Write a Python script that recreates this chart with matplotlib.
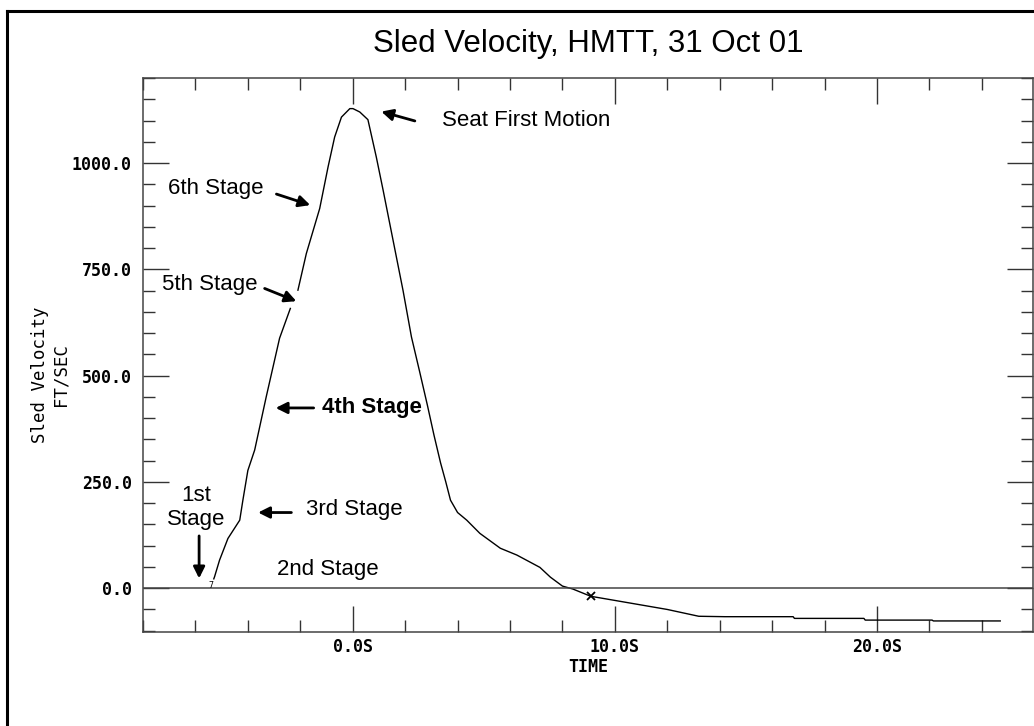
import numpy as np
import matplotlib
matplotlib.use("Agg")
import matplotlib.pyplot as plt
from matplotlib.ticker import MultipleLocator, FixedLocator, FuncFormatter
from matplotlib.lines import Line2D

# sled velocity trace (time in s, velocity in ft/sec); NaN marks the dropout near 5th stage
time_s = [-5.30, -5.27, -5.08, -4.76, -4.31, -4.19, -4.00, -3.74, -3.30, -2.79, -2.38,
          np.nan,
          -2.09, -1.77, -1.26, -0.94, -0.69, -0.43, -0.11, 0.01, 0.27, 0.58, 0.90,
          1.16, 1.54, 1.92, 2.24, 2.55, 2.85, 3.10, 3.35, 3.55, 3.73, 4.00, 4.35,
          4.85, 5.63, 6.26, 7.14, 7.54, 8.00, 8.40, 9.08, 9.93, 12.00, 13.20,
          14.20, 16.80, 16.85, 19.50, 19.55, 22.10, 22.15, 24.70]
velocity = [22, 27, 66, 117, 160, 207, 277, 325, 450, 588, 658,
            np.nan,
            701, 787, 893, 991, 1061, 1108, 1128, 1128, 1120, 1102, 1014,
            936, 818, 700, 591, 510, 430, 360, 295, 250, 207, 178, 160,
            129, 94, 78, 49, 26, 5, -2, -19, -28, -50, -66,
            -67, -67, -71, -71, -75, -75, -77, -77]

cross_t, cross_v = 9.08, -19

y_major = [0, 250, 500, 750, 1000]
x_major = [0, 10, 20]

stage_notes = [
    # text, text pos, arrow tail, arrow head, weight
    ("Seat First Motion", (3.40, 1099), (2.37, 1099), (1.09, 1121), "normal"),
    ("6th Stage", (-7.06, 939), (-2.91, 927), (-1.62, 901), "normal"),
    ("5th Stage", (-7.26, 715), (-3.36, 705), (-2.15, 675), "normal"),
    ("4th Stage", (-1.18, 424), (-1.49, 424), (-2.94, 424), "bold"),
    ("3rd Stage", (-1.78, 184), (-2.34, 178), (-3.61, 178), "normal"),
]

W, H = 1034, 726
fig = plt.figure(figsize=(W / 100, H / 100), dpi=100)
ax = fig.add_axes([143 / W, 1 - 632 / H, (1033 - 143) / W, (632 - 78) / H])

ax.plot(time_s, velocity, color="black", lw=1.0)
ax.plot(cross_t, cross_v, marker="x", color="black", ms=6, mew=1.3)
ax.text(-5.42, 6, "7", fontsize=6, family="DejaVu Sans Mono", ha="center", va="center")
ax.axhline(0, color="#444444", lw=1.1)

ax.set_xlim(-8, 25.95)
ax.set_ylim(-103, 1200)

ax.xaxis.set_major_locator(FixedLocator(x_major))
ax.xaxis.set_minor_locator(MultipleLocator(2))
ax.yaxis.set_major_locator(FixedLocator(y_major))
ax.yaxis.set_minor_locator(MultipleLocator(50))
ax.xaxis.set_major_formatter(FuncFormatter(lambda v, p: f"{v:.1f}S"))
ax.yaxis.set_major_formatter(FuncFormatter(lambda v, p: f"{v:.1f}"))

ax.tick_params(which="both", direction="in", top=True, right=True, color="#333333")
ax.tick_params(which="major", length=19, width=1.0, pad=4)
ax.tick_params(which="minor", length=8.5, width=1.0)
ax.tick_params(axis="y", which="major", pad=8)
for lab in ax.get_xticklabels() + ax.get_yticklabels():
    lab.set_family("DejaVu Sans Mono")
    lab.set_fontweight("bold")
    lab.set_fontsize(12)
for sp in ax.spines.values():
    sp.set_color("#444444")
    sp.set_linewidth(1.1)

ax.set_xlabel("TIME", family="DejaVu Sans Mono", fontweight="bold", fontsize=12, labelpad=2)
fig.text(50 / W, 1 - 375 / H, "Sled Velocity\nFT/SEC", family="DejaVu Sans Mono",
         fontsize=12.5, rotation=90, ha="center", va="center", linespacing=1.15)
ax.set_title("Sled Velocity, HMTT, 31 Oct 01", family="Liberation Sans", fontsize=22.5, pad=19)

arrow = dict(arrowstyle="-|>", color="black", lw=2.0, mutation_scale=17, shrinkA=0, shrinkB=0)
for txt, tpos, tail, head, wt in stage_notes:
    ax.text(tpos[0], tpos[1], txt, family="Liberation Sans", fontsize=16, fontweight=wt,
            ha="left", va="center")
    ax.annotate("", xy=head, xytext=tail, arrowprops=arrow)

ax.text(-5.99, 190, "1st\nStage", family="Liberation Sans", fontsize=16,
        ha="center", va="center", linespacing=1.15)
ax.annotate("", xy=(-5.86, 23), xytext=(-5.86, 123), arrowprops=arrow)
ax.text(-0.95, 45, "2nd Stage", family="Liberation Sans", fontsize=16, ha="center", va="center")

# outer frame, open at bottom and right
fig.add_artist(Line2D([6.5 / W, 6.5 / W], [0, 1 - 10.5 / H], transform=fig.transFigure,
                      color="black", lw=2.2))
fig.add_artist(Line2D([6.5 / W, 1], [1 - 10.5 / H, 1 - 10.5 / H], transform=fig.transFigure,
                      color="black", lw=2.2))

fig.savefig("out.png", dpi=100)
